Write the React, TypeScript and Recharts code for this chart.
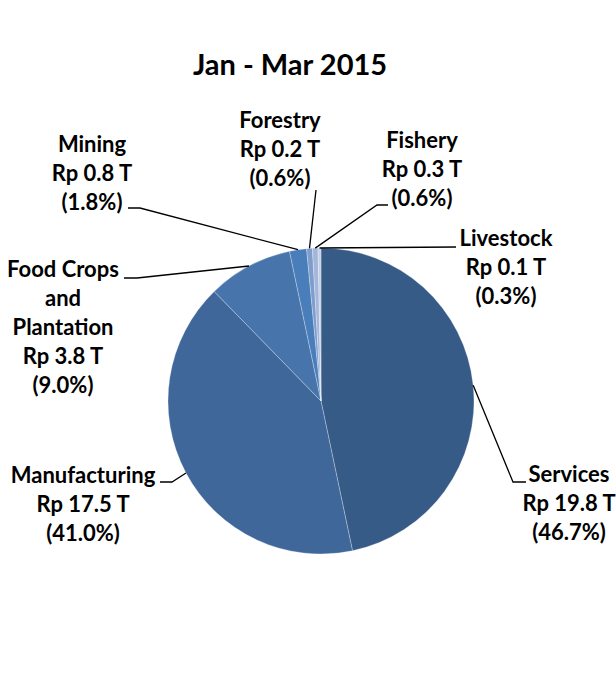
import { PieChart, Pie, Cell } from "recharts";

const sectors = ["Services", "Manufacturing", "Food Crops and Plantation", "Mining", "Forestry", "Fishery", "Livestock"];
const amountsT = [19.8, 17.5, 3.8, 0.8, 0.2, 0.3, 0.1];
const sharePct = [46.7, 41.0, 9.0, 1.8, 0.6, 0.6, 0.3];
const labelLines = [
  ["Services"],
  ["Manufacturing"],
  ["Food Crops", "and", "Plantation"],
  ["Mining"],
  ["Forestry"],
  ["Fishery"],
  ["Livestock"],
];

const COLORS = ["#375B87", "#3F679A", "#4774AA", "#4A7EBB", "#7E9CCC", "#A4B7DA", "#C3CFE7"];

// where each label sits: text centre x, first baseline, and leader-line bend points
const LABEL_LAYOUT = [
  { x: 569, y: 482, path: [[513, 482], [526, 482]] },
  { x: 83, y: 483, path: [[172, 482], [160, 482]] },
  { x: 63, y: 277, path: [[137, 278], [124, 278]] },
  { x: 92, y: 152, path: [[140, 208], [128, 208]] },
  { x: 280, y: 128, path: [[316, 190]] },
  { x: 422, y: 148, path: [[377, 205], [388, 205]] },
  { x: 506, y: 246, path: [[456, 247]] },
];

const data = sectors.map((name, i) => ({ name, value: sharePct[i] }));

const FONT = "Lato, 'Open Sans', sans-serif";
const RADIAN = Math.PI / 180;
const LINE_H = 29;

function renderLabel(props: any) {
  const { cx, cy, midAngle, outerRadius, index } = props;
  const layout = LABEL_LAYOUT[index];
  const ex = cx + outerRadius * Math.cos(-midAngle * RADIAN);
  const ey = cy + outerRadius * Math.sin(-midAngle * RADIAN);
  const pts = [[ex, ey], ...layout.path].map((p) => p.join(",")).join(" ");
  const lines = [
    ...labelLines[index],
    `Rp ${amountsT[index].toFixed(1)} T`,
    `(${sharePct[index].toFixed(1)}%)`,
  ];
  return (
    <g key={`lbl-${index}`}>
      <polyline points={pts} fill="none" stroke="#000" strokeWidth={1.3} />
      <text
        x={layout.x}
        y={layout.y}
        textAnchor="middle"
        fontFamily={FONT}
        fontWeight={700}
        fontSize={22}
        fill="#000"
      >
        {lines.map((t, k) => (
          <tspan key={k} x={layout.x} y={layout.y + k * LINE_H}>
            {t}
          </tspan>
        ))}
      </text>
    </g>
  );
}

export default function App() {
  return (
    <div style={{ position: "absolute", left: 0, top: 0, width: 616, height: 693, background: "#fff" }}>
      <div
        style={{
          position: "absolute",
          left: 0,
          width: 580,
          top: 46,
          textAlign: "center",
          fontFamily: FONT,
          fontWeight: 700,
          fontSize: 29,
          color: "#000",
          lineHeight: "36px",
        }}
      >
        Jan - Mar 2015
      </div>
      <PieChart width={616} height={693} margin={{ top: 0, right: 0, bottom: 0, left: 0 }}>
        <Pie
          data={data}
          dataKey="value"
          nameKey="name"
          cx={321}
          cy={401}
          outerRadius={153}
          startAngle={90}
          endAngle={-270}
          stroke="#ffffff"
          strokeOpacity={0.28}
          strokeWidth={1}
          label={renderLabel}
          labelLine={false}
          isAnimationActive={false}
        >
          {data.map((d, i) => (
            <Cell key={d.name} fill={COLORS[i]} />
          ))}
        </Pie>
      </PieChart>
    </div>
  );
}
